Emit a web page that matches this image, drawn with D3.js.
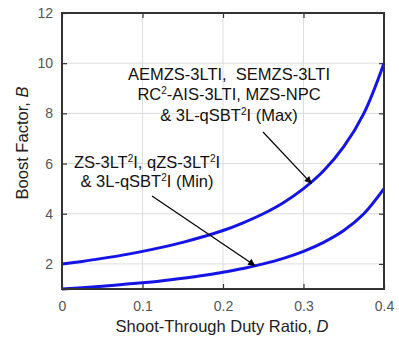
<!DOCTYPE html>
<html>
<head>
<meta charset="utf-8">
<script src="https://cdn.jsdelivr.net/npm/d3@7"></script>
<style>
  body { margin: 0; background: #fff; }
  text { font-family: Arial, "Liberation Sans", sans-serif; }
</style>
</head>
<body>
<div id="chart"></div>
<script>
// Data
let dutyRatio = [0, 0.025, 0.05, 0.075, 0.1, 0.125, 0.15, 0.175, 0.2, 0.225, 0.25, 0.275, 0.3, 0.325, 0.35, 0.375, 0.4];
let boostMax = [2.0, 2.1, 2.22, 2.35, 2.5, 2.67, 2.86, 3.08, 3.33, 3.64, 4.0, 4.44, 5.0, 5.71, 6.67, 8.0, 10.0];
let boostMin = [1.0, 1.05, 1.11, 1.18, 1.25, 1.33, 1.43, 1.54, 1.67, 1.82, 2.0, 2.22, 2.5, 2.86, 3.33, 4.0, 5.0];
let xTicks = [0, 0.1, 0.2, 0.3, 0.4];
let yTicks = [2, 4, 6, 8, 10, 12];

let svgWidth = 399;
let svgHeight = 340;
let margin = { top: 13, right: 15, bottom: 51, left: 62 };
let width = svgWidth - margin.left - margin.right;
let height = svgHeight - margin.top - margin.bottom;

let svg = d3.select("#chart").append("svg")
    .attr("width", svgWidth)
    .attr("height", svgHeight);

let defs = svg.append("defs");
defs.append("marker")
    .attr("id", "arrow")
    .attr("viewBox", "0 0 10 10")
    .attr("refX", 10).attr("refY", 5)
    .attr("markerWidth", 10).attr("markerHeight", 7)
    .attr("markerUnits", "userSpaceOnUse")
    .attr("orient", "auto")
    .append("path")
    .attr("d", "M0,0 L10,5 L0,10 Z")
    .attr("fill", "#000");

let chartGroup = svg.append("g")
    .attr("transform", `translate(${margin.left}, ${margin.top})`);

let x = d3.scaleLinear().domain([0, 0.4]).range([0, width]);
let y = d3.scaleLinear().domain([1, 12]).range([height, 0]);

// grid
chartGroup.append("g").selectAll("line")
    .data(xTicks.slice(1, -1))
    .join("line")
    .attr("x1", d => x(d)).attr("x2", d => x(d))
    .attr("y1", 0).attr("y2", height)
    .attr("stroke", "#dcdcdc").attr("stroke-width", 1);
chartGroup.append("g").selectAll("line")
    .data(yTicks.slice(0, -1))
    .join("line")
    .attr("x1", 0).attr("x2", width)
    .attr("y1", d => y(d)).attr("y2", d => y(d))
    .attr("stroke", "#dcdcdc").attr("stroke-width", 1);

// axes (ticks inside, MATLAB style)
let bottomAxis = d3.axisBottom(x).tickValues(xTicks).tickSize(-5).tickPadding(12).tickFormat(d => d === 0 ? "0" : d3.format(".1f")(d));
let leftAxis = d3.axisLeft(y).tickValues(yTicks).tickSize(-5).tickPadding(9);
let topAxis = d3.axisTop(x).tickValues(xTicks).tickSize(-5).tickFormat("");
let rightAxis = d3.axisRight(y).tickValues(yTicks).tickSize(-5).tickFormat("");

let xAxis = chartGroup.append("g")
    .attr("transform", `translate(0, ${height})`)
    .call(bottomAxis);
let yAxis = chartGroup.append("g").call(leftAxis);
let tAxis = chartGroup.append("g").call(topAxis);
let rAxis = chartGroup.append("g")
    .attr("transform", `translate(${width}, 0)`)
    .call(rightAxis);

[xAxis, yAxis, tAxis, rAxis].forEach(a => {
    a.select(".domain").remove();
    a.selectAll("line").attr("stroke", "#333").attr("stroke-width", 1.2);
    a.selectAll("text").attr("fill", "#555").style("font-size", "14px");
});

// curves
let lineGen = d3.line()
    .x((d, i) => x(dutyRatio[i]))
    .y(d => y(d))
    .curve(d3.curveCatmullRom);

[boostMax, boostMin].forEach(series => {
    chartGroup.append("path")
        .datum(series)
        .attr("d", lineGen)
        .attr("fill", "none")
        .attr("stroke", "#1414e6")
        .attr("stroke-width", 3);
});

// box
chartGroup.append("rect")
    .attr("x", 0).attr("y", 0)
    .attr("width", width).attr("height", height)
    .attr("fill", "none")
    .attr("stroke", "#333")
    .attr("stroke-width", 2);

// annotations (superscript "2" pieces given as {up: "2"})
function addLabel(lines, cx, y0, gap) {
    let t = svg.append("text")
        .attr("text-anchor", "middle")
        .style("font-size", "16.5px")
        .attr("fill", "#111");
    lines.forEach((parts, i) => {
        let row = t.append("tspan").attr("x", cx).attr("y", y0 + i * gap);
        let raised = false;
        parts.forEach(p => {
            if (typeof p === "string") {
                let s = row.append("tspan").text(p);
                if (raised) s.attr("dy", 6);
                raised = false;
            } else {
                row.append("tspan").attr("dy", -6).style("font-size", "10px").text(p.up);
                raised = true;
            }
        });
    });
}

addLabel([
    ["AEMZS-3LTI,\u00a0\u00a0SEMZS-3LTI"],
    ["RC", { up: "2" }, "-AIS-3LTI, MZS-NPC"],
    ["& 3L-qSBT", { up: "2" }, "I (Max)"]
], 229, 80, 20.3);

addLabel([
    ["ZS-3LT", { up: "2" }, "I, qZS-3LT", { up: "2" }, "I"],
    ["& 3L-qSBT", { up: "2" }, "I (Min)"]
], 147, 168, 19.3);

// arrows pointing to curves
let arrows = [
    { x1: 263, y1: 132, d: 0.31, b: 5.2 },
    { x1: 152, y1: 196, d: 0.24, b: 1.93 }
];
svg.append("g").selectAll("line")
    .data(arrows)
    .join("line")
    .attr("x1", d => d.x1).attr("y1", d => d.y1)
    .attr("x2", d => margin.left + x(d.d))
    .attr("y2", d => margin.top + y(d.b))
    .attr("stroke", "#000")
    .attr("stroke-width", 1.2)
    .attr("marker-end", "url(#arrow)");

// axis titles
let xTitle = svg.append("text")
    .attr("x", 222)
    .attr("y", 332)
    .attr("text-anchor", "middle")
    .style("font-size", "16.5px")
    .attr("fill", "#222");
xTitle.append("tspan").text("Shoot-Through Duty Ratio, ");
xTitle.append("tspan").style("font-style", "italic").text("D");

let yTitle = svg.append("text")
    .attr("transform", `translate(28, 143) rotate(-90)`)
    .attr("text-anchor", "middle")
    .style("font-size", "16.5px")
    .attr("fill", "#222");
yTitle.append("tspan").text("Boost Factor, ");
yTitle.append("tspan").style("font-style", "italic").text("B");
</script>
</body>
</html>
